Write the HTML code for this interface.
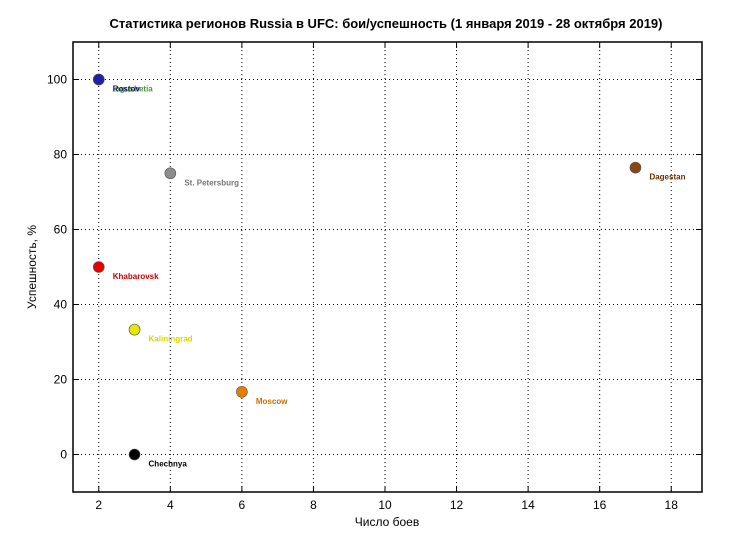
<!DOCTYPE html>
<html><head><meta charset="utf-8"><style>
body{margin:0;background:#fff;}
svg text{font-family:"Liberation Sans",sans-serif;}
</style></head><body>
<svg id="chart" width="730" height="548" xmlns="http://www.w3.org/2000/svg">
<rect width="730" height="548" fill="#fff"/>
<text x="386" y="28" font-size="13" font-weight="bold" text-anchor="middle">Статистика регионов Russia в UFC: бои/успешность (1 января 2019 - 28 октября 2019)</text>
<g id="grid"></g><g id="axes"></g><g id="marks"></g>
<text x="387" y="526" font-size="12" text-anchor="middle">Число боев</text>
<text transform="translate(36,267) rotate(-90)" font-size="12" text-anchor="middle">Успешность, %</text>
</svg>
<script>
const names=["Ingushetia","Rostov","St. Petersburg","Dagestan","Khabarovsk","Kaliningrad","Moscow","Chechnya"];
const fights=[2,2,4,17,2,3,6,3];
const success=[100,100,75,76.5,50,33.3,16.7,0];
const colors=["#2e9e6e","#1f1fa8","#8c8c8c","#8b4513","#e60000","#e6e600","#e67e00","#000000"];
const labelColors=["#4a9a3a","#1a1a6a","#777777","#6b2f00","#cc0000","#d8d800","#cc7000","#000000"];
const xTicks=[2,4,6,8,10,12,14,16,18];
const yTicks=[0,20,40,60,80,100];
const L=73,R=702,T=42,B=492,xmin=1.28,xmax=18.86,ymin=-10,ymax=110;
const X=v=>L+(v-xmin)/(xmax-xmin)*(R-L);
const Y=v=>B-(v-ymin)/(ymax-ymin)*(B-T);
const NS="http://www.w3.org/2000/svg";
function mk(p,tag,a){const e=document.createElementNS(NS,tag);for(const k in a)e.setAttribute(k,a[k]);document.getElementById(p).appendChild(e);return e;}
xTicks.forEach(v=>{
 const g=mk('grid','line',{x1:X(v),x2:X(v),y1:T,y2:B,stroke:'#000','stroke-dasharray':'1,3','stroke-width':1});
 
 
 mk('axes','line',{x1:X(v),x2:X(v),y1:B,y2:B-6,stroke:'#000'});
 mk('axes','line',{x1:X(v),x2:X(v),y1:T,y2:T+6,stroke:'#000'});
 const t=mk('axes','text',{x:X(v),y:B+17,'font-size':12,'text-anchor':'middle'});t.textContent=v;
 
 
});
yTicks.forEach(v=>{
 const g=mk('grid','line',{x1:L,x2:R,y1:Y(v),y2:Y(v),stroke:'#000','stroke-dasharray':'1,3','stroke-width':1});
 
 
 mk('axes','line',{x1:L,x2:L+6,y1:Y(v),y2:Y(v),stroke:'#000'});
 mk('axes','line',{x1:R,x2:R-6,y1:Y(v),y2:Y(v),stroke:'#000'});
 const t=mk('axes','text',{x:L-6,y:Y(v)+4,'font-size':12,'text-anchor':'end'});t.textContent=v;
 
 
});
const fr=mk('axes','rect',{x:L,y:T,width:R-L,height:B-T,fill:'none',stroke:'#000','stroke-width':1.5});


names.forEach((n,i)=>{
 const c=mk('marks','circle',{cx:X(fights[i]),cy:Y(success[i]),r:5.5,fill:colors[i],stroke:'#555','stroke-width':0.6});
 
 
 const t=mk('marks','text',{x:X(fights[i])+14,y:Y(success[i])+12,'font-size':8,'font-weight':'bold',fill:labelColors[i]});t.textContent=n;
 
 
});
</script>
</body></html>
